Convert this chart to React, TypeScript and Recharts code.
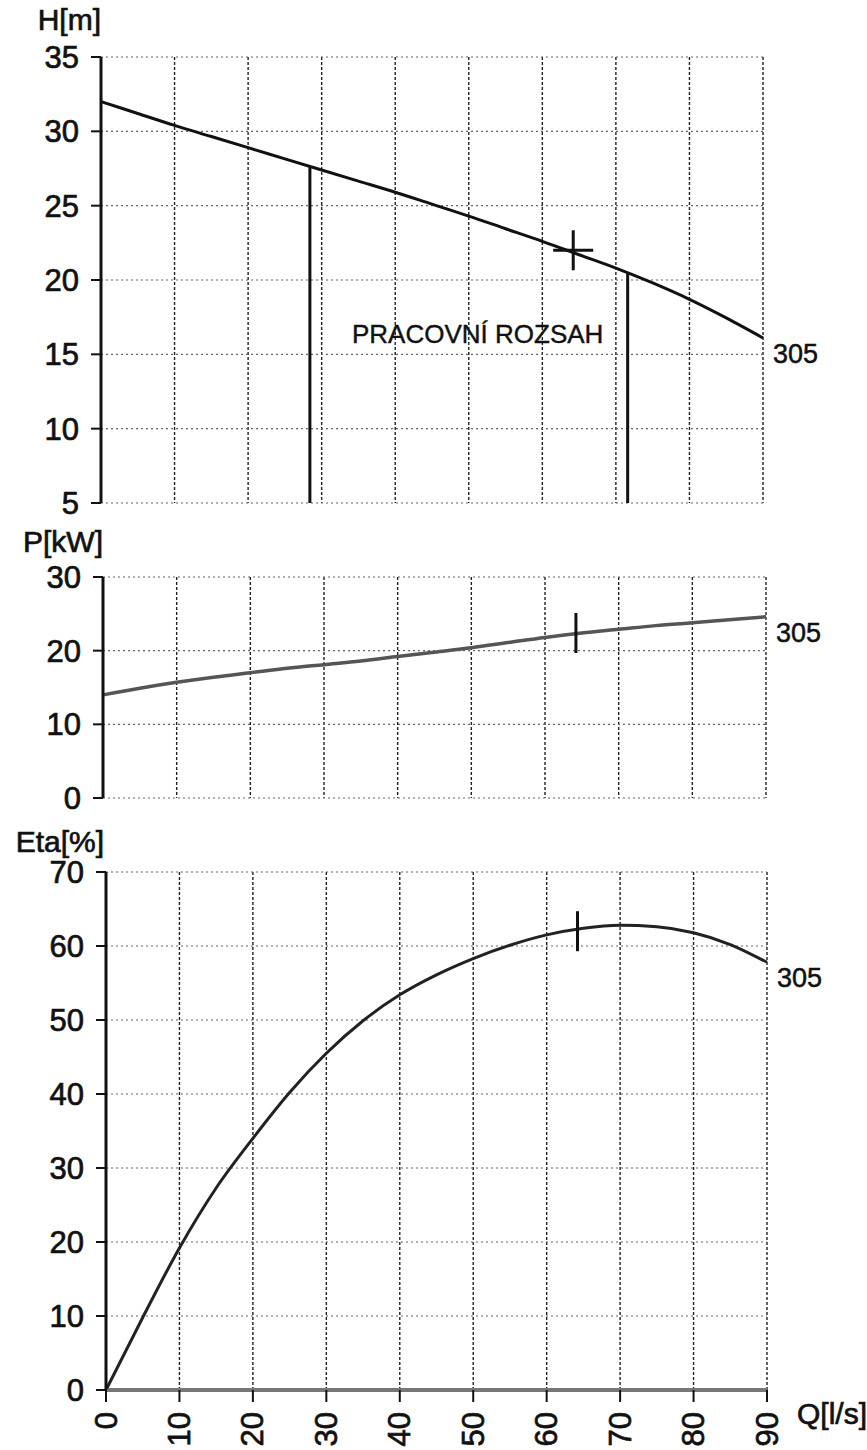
import React from "react";
import {
  ComposedChart,
  Line,
  XAxis,
  YAxis,
  CartesianGrid,
  ReferenceLine,
  ReferenceDot,
} from "recharts";

// flow Q [l/s]
const Q = [0, 5, 10, 15, 20, 25, 30, 35, 40, 45, 50, 55, 60, 65, 70, 75, 80, 85, 90];
// head H [m]
const H_M = [32.0, 31.2, 30.4, 29.65, 28.9, 28.15, 27.4, 26.65, 25.9, 25.1, 24.3, 23.45, 22.6, 21.7, 20.8, 19.8, 18.7, 17.45, 16.1];
// power P [kW]
const P_KW = [14.0, 14.9, 15.7, 16.4, 17.0, 17.6, 18.1, 18.6, 19.2, 19.8, 20.4, 21.1, 21.8, 22.4, 22.9, 23.4, 23.8, 24.2, 24.6];
// efficiency Eta [%]
const ETA = [0, 9.8, 19.2, 27.3, 34.0, 40.2, 45.5, 49.9, 53.4, 56.1, 58.3, 60.1, 61.5, 62.4, 62.8, 62.6, 61.8, 60.2, 57.8];

const Q_TICKS = [0, 10, 20, 30, 40, 50, 60, 70, 80, 90];
const H_TICKS = [5, 10, 15, 20, 25, 30, 35];
const P_TICKS = [0, 10, 20, 30];
const ETA_TICKS = [0, 10, 20, 30, 40, 50, 60, 70];

// working range (Q) and the head where the limit lines meet the curve
const RANGE_Q = [28.4, 71.6];
const RANGE_H = [27.6, 20.5];

// duty point
const OP_Q = 64.2;
const OP_H = 22.0;
const OP_P = 22.4;
const OP_ETA = 62.0;

const CURVE = "305";

const rows = Q.map((q, i) => ({ q, h: H_M[i], p: P_KW[i], eta: ETA[i] }));
const last = rows.length - 1;

const FONT = '"Liberation Sans", Arial, Helvetica, sans-serif';

// scanned print looks heavy, so thicken the glyphs a little
const ink = { fill: "#111", stroke: "#111", strokeWidth: 0.7 };
const yTick = { fontSize: 31, fontFamily: FONT, ...ink };

const Cross = (props: any) => {
  const { cx, cy } = props;
  return (
    <g stroke="#111" strokeWidth={3}>
      <line x1={cx - 20} x2={cx + 20} y1={cy} y2={cy} />
      <line x1={cx} x2={cx} y1={cy - 20} y2={cy + 20} />
    </g>
  );
};

const Bar = (props: any) => {
  const { cx, cy } = props;
  return <line x1={cx} x2={cx} y1={cy - 20} y2={cy + 20} stroke="#111" strokeWidth={3} />;
};

const endLabel = (p: any) =>
  p.index === last ? (
    <text x={p.x + 10} y={p.y + 16} fontSize={27} fontFamily={FONT} dominantBaseline="central" {...ink} strokeWidth={0.5}>
      {CURVE}
    </text>
  ) : null;

const QTick = (props: any) => {
  const { x, y, payload } = props;
  return (
    <text
      x={x}
      y={y}
      transform={`rotate(-90, ${x}, ${y})`}
      textAnchor="end"
      dominantBaseline="central"
      fontSize={31}
      fontFamily={FONT}
      {...ink}
    >
      {payload.value}
    </text>
  );
};

const NoTick = () => <g />;

function Grid() {
  return (
    <>
      <CartesianGrid horizontal={false} stroke="#222" strokeWidth={1.4} strokeDasharray="3 2" />
      <CartesianGrid vertical={false} stroke="#666" strokeWidth={1.2} strokeDasharray="2 3" />
    </>
  );
}

function HiddenX() {
  return (
    <XAxis
      type="number"
      dataKey="q"
      domain={[0, 90]}
      ticks={Q_TICKS}
      interval={0}
      height={0}
      tick={NoTick}
      axisLine={false}
      tickLine={false}
    />
  );
}

function LeftAxis({ domain, ticks, width }: { domain: number[]; ticks: number[]; width: number }) {
  return (
    <YAxis
      type="number"
      domain={domain}
      ticks={ticks}
      interval={0}
      width={width}
      tick={yTick}
      tickSize={10}
      tickMargin={12}
      axisLine={{ stroke: "#111", strokeWidth: 3 }}
      tickLine={{ stroke: "#111", strokeWidth: 2 }}
    />
  );
}

export default function App() {
  return (
    <div style={{ position: "absolute", left: 0, top: 0, width: 867, height: 1450, background: "#fff", fontFamily: FONT }}>
      {/* H(Q) */}
      <div style={{ position: "absolute", left: 0, top: 0 }}>
        <ComposedChart width={867} height={520} data={rows} margin={{ top: 57, right: 104, bottom: 17, left: 0 }}>
          {Grid()}
          {HiddenX()}
          {LeftAxis({ domain: [5, 35], ticks: H_TICKS, width: 101 })}
          <ReferenceLine segment={[{ x: RANGE_Q[0], y: 5 }, { x: RANGE_Q[0], y: RANGE_H[0] }]} stroke="#111" strokeWidth={3} />
          <ReferenceLine segment={[{ x: RANGE_Q[1], y: 5 }, { x: RANGE_Q[1], y: RANGE_H[1] }]} stroke="#111" strokeWidth={3} />
          <Line type="monotone" dataKey="h" stroke="#111" strokeWidth={3} dot={false} isAnimationActive={false} label={endLabel} />
          <ReferenceDot x={OP_Q} y={OP_H} r={1} shape={Cross} />
        </ComposedChart>
      </div>

      {/* P(Q) */}
      <div style={{ position: "absolute", left: 0, top: 540 }}>
        <ComposedChart width={867} height={280} data={rows} margin={{ top: 37, right: 101, bottom: 22, left: 0 }}>
          {Grid()}
          {HiddenX()}
          {LeftAxis({ domain: [0, 30], ticks: P_TICKS, width: 103 })}
          <Line type="monotone" dataKey="p" stroke="#555" strokeWidth={3.5} dot={false} isAnimationActive={false} label={endLabel} />
          <ReferenceDot x={OP_Q} y={OP_P} r={1} shape={Bar} />
        </ComposedChart>
      </div>

      {/* Eta(Q) */}
      <div style={{ position: "absolute", left: 0, top: 830 }}>
        <ComposedChart width={867} height={620} data={rows} margin={{ top: 42, right: 100, bottom: 0, left: 0 }}>
          {Grid()}
          <XAxis
            type="number"
            dataKey="q"
            domain={[0, 90]}
            ticks={Q_TICKS}
            interval={0}
            height={60}
            tick={<QTick />}
            tickSize={12}
            tickMargin={10}
            axisLine={{ stroke: "#777", strokeWidth: 4 }}
            tickLine={{ stroke: "#111", strokeWidth: 2 }}
          />
          {LeftAxis({ domain: [0, 70], ticks: ETA_TICKS, width: 106 })}
          <Line type="monotone" dataKey="eta" stroke="#222" strokeWidth={3} dot={false} isAnimationActive={false} label={endLabel} />
          <ReferenceDot x={OP_Q} y={OP_ETA} r={1} shape={Bar} />
        </ComposedChart>
      </div>

      {/* titles */}
      <svg width={867} height={1450} style={{ position: "absolute", left: 0, top: 0, pointerEvents: "none" }}>
        <g fontFamily={FONT} fontSize={30} {...ink}>
          <text x={101} y={30} textAnchor="end">H[m]</text>
          <text x={103} y={552} textAnchor="end">P[kW]</text>
          <text x={104} y={852} textAnchor="end">Eta[%]</text>
          <text x={797} y={1424}>Q[l/s]</text>
          <text x={352} y={343} fontSize={26} strokeWidth={0.4}>PRACOVNÍ ROZSAH</text>
        </g>
      </svg>
    </div>
  );
}
